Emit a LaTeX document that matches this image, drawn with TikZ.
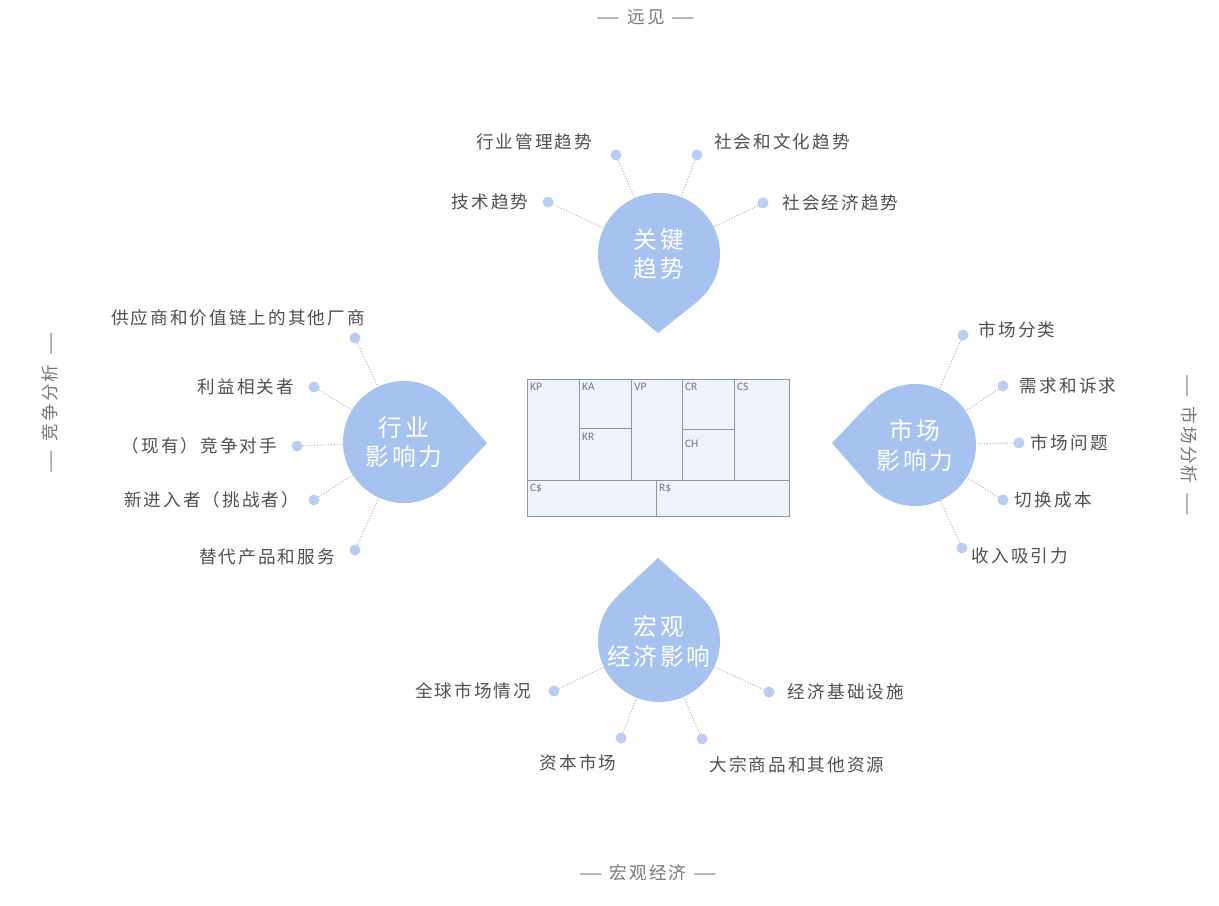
\documentclass[tikz,border=0pt]{standalone}
\usepackage{fontspec}
\setmainfont[LetterSpace=12]{Noto Sans CJK SC}
\newfontfamily\canvasfont{Carlito}
\usetikzlibrary{positioning, backgrounds}
\newcommand{\sdash}{\scalebox{1.5}[1]{—}}
\definecolor{dropcolor}{RGB}{166,195,240}
\definecolor{dotcolor}{RGB}{186,205,243}
\definecolor{textgray}{RGB}{80,80,80}
\definecolor{sidegray}{RGB}{120,120,120}
\definecolor{canvasfill}{RGB}{238,243,250}
\definecolor{canvasline}{RGB}{140,152,170}

\begin{document}
\begin{tikzpicture}[
  x=0.2mm, y=-0.2mm,
  drop/.style={circle, fill=dropcolor, minimum size=24.4mm, inner sep=0pt,
               align=center, text=white, font=\fontsize{13.5}{17}\selectfont},
  dot/.style={circle, fill=dotcolor, minimum size=2.2mm, inner sep=0pt},
  lbl/.style={text=textgray, font=\fontsize{10}{12}\selectfont, inner sep=1pt},
  side/.style={text=sidegray, font=\fontsize{10}{12}\selectfont, inner sep=1pt},
  cell/.style={anchor=north west, text=sidegray,
               font=\canvasfont\fontsize{6.5}{7}\selectfont, inner sep=1pt},
  canvas/.style={draw=canvasline, line width=0.5pt},
  link/.style={densely dotted, draw=gray!55, line width=0.6pt}
]
\useasboundingbox (0,0) rectangle (1219,906);

% side titles
\node[side] (vision) at (646,17) {\sdash\hspace{0.4em}远见\hspace{0.4em}\sdash};
\node[side] (economy) at (648,873) {\sdash\hspace{0.4em}宏观经济\hspace{0.4em}\sdash};
\node[side, rotate=90] (competition) at (50,403) {\sdash\hspace{0.5em}竞争分析\hspace{0.5em}\sdash};
\node[side, rotate=-90] (analysis) at (1189,445) {\sdash\hspace{0.5em}市场分析\hspace{0.5em}\sdash};

% business model canvas
\filldraw[canvas, fill=canvasfill] (527,379) rectangle (789,516);
\draw[canvas] (579,379) -- (579,480);
\draw[canvas] (631,379) -- (631,480);
\draw[canvas] (682,379) -- (682,480);
\draw[canvas] (734,379) -- (734,480);
\draw[canvas] (527,480) -- (789,480);
\draw[canvas] (579,428) -- (631,428);
\draw[canvas] (682,429) -- (734,429);
\draw[canvas] (656,480) -- (656,516);
\node[cell] (kp) at (528,381) {KP};
\node[cell] (ka) at (580,381) {KA};
\node[cell] (vp) at (632,381) {VP};
\node[cell] (cr) at (683,381) {CR};
\node[cell] (cs) at (735,381) {CS};
\node[cell] (kr) at (580,431) {KR};
\node[cell] (ch) at (683,438) {CH};
\node[cell] (cost) at (528,482) {C\$};
\node[cell] (rev) at (657,482) {R\$};

% drops
\node[drop] (trends) at (659,254) {关键\\趋势};
\node[drop] (industry) at (404,442) {行业\\影响力};
\node[drop] (market) at (915,445) {市场\\影响力};
\node[drop] (macro) at (659,641) {宏观\\经济影响};
\coordinate (trends-tip) at (658,333);
\coordinate (industry-tip) at (487,443);
\coordinate (market-tip) at (832,443);
\coordinate (macro-tip) at (658,558);
\begin{scope}[on background layer]
  \fill[white] (0,0) rectangle (1219,906);
  \fill[dropcolor] (trends.228) -- (trends-tip) -- (trends.312) -- cycle;
  \fill[dropcolor] (industry.42) -- (industry-tip) -- (industry.318) -- cycle;
  \fill[dropcolor] (market.138) -- (market-tip) -- (market.222) -- cycle;
  \fill[dropcolor] (macro.48) -- (macro-tip) -- (macro.132) -- cycle;
\end{scope}

% key trends
\node[dot] (t1) at (616,155) {};
\node[dot] (t2) at (697,155) {};
\node[dot] (t3) at (548,202) {};
\node[dot] (t4) at (763,203) {};
\node[lbl] (t1-l) at (534,142) {行业管理趋势};
\node[lbl] (t2-l) at (782,142) {社会和文化趋势};
\node[lbl, left=2.3mm of t3] (t3-l) {技术趋势};
\node[lbl, right=2.3mm of t4] (t4-l) {社会经济趋势};

% industry forces
\node[dot] (i1) at (355,338) {};
\node[dot] (i2) at (314,387) {};
\node[dot] (i3) at (297,446) {};
\node[dot] (i4) at (314,500) {};
\node[dot] (i5) at (355,550) {};
\node[lbl] (i1-l) at (238,318) {供应商和价值链上的其他厂商};
\node[lbl, left=2.4mm of i2] (i2-l) {利益相关者};
\node[lbl, left=2.4mm of i3] (i3-l) {（现有）竞争对手};
\node[lbl, left=1.4mm of i4] (i4-l) {新进入者（挑战者）};
\node[lbl] (i5-l) at (267,557) {替代产品和服务};

% market forces
\node[dot] (m1) at (963,335) {};
\node[dot] (m2) at (1003,386) {};
\node[dot] (m3) at (1019,443) {};
\node[dot] (m4) at (1003,500) {};
\node[dot] (m5) at (962,548) {};
\node[lbl] (m1-l) at (1017,330) {市场分类};
\node[lbl, right=1.8mm of m2] (m2-l) {需求和诉求};
\node[lbl, right=0.8mm of m3] (m3-l) {市场问题};
\node[lbl, right=0.8mm of m4] (m4-l) {切换成本};
\node[lbl] (m5-l) at (1020,556) {收入吸引力};

% macro-economic forces
\node[dot] (b1) at (554,691) {};
\node[dot] (b2) at (769,692) {};
\node[dot] (b3) at (621,738) {};
\node[dot] (b4) at (702,739) {};
\node[lbl, left=3mm of b1] (b1-l) {全球市场情况};
\node[lbl, right=2.2mm of b2] (b2-l) {经济基础设施};
\node[lbl] (b3-l) at (578,763) {资本市场};
\node[lbl] (b4-l) at (797,765) {大宗商品和其他资源};

% dotted links
\foreach \d in {t1,t2,t3,t4}
  \draw[link] (\d) -- (trends);
\foreach \d in {i1,i2,i3,i4,i5}
  \draw[link] (\d) -- (industry);
\foreach \d in {m1,m2,m3,m4,m5}
  \draw[link] (\d) -- (market);
\foreach \d in {b1,b2,b3,b4}
  \draw[link] (\d) -- (macro);
\end{tikzpicture}
\end{document}
